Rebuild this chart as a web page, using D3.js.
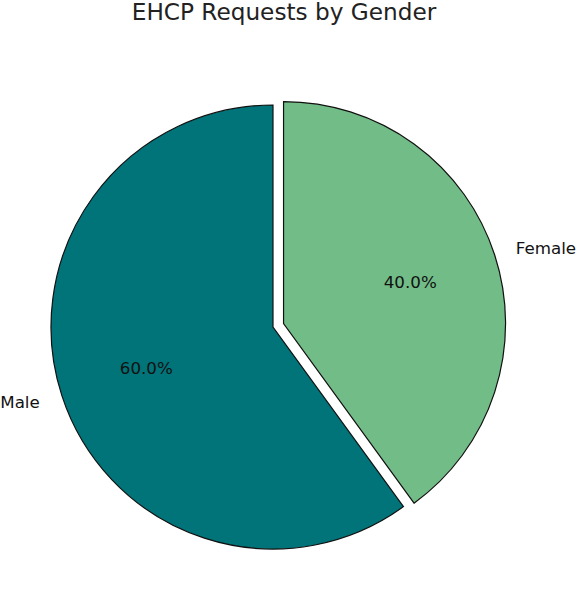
<!DOCTYPE html>
<html><head><meta charset="utf-8">
<script src="https://cdn.jsdelivr.net/npm/d3@7"></script>
<style>body{margin:0;background:#fff}svg{display:block}</style>
</head><body>
<svg id="c" width="578" height="600"></svg>
<script>
const categories = ["Female", "Male"];
const values = [40, 60];
const colors = ["#72bd87", "#01747a"];
const explode = [0.05, 0];
const title = "EHCP Requests by Gender";

const svg = d3.select("#c");
const cx = 273, cy = 327, r = 222;
const font = "DejaVu Sans, sans-serif";

svg.append("text").attr("x", 284).attr("y", 20).attr("text-anchor", "middle")
  .attr("font-family", font).attr("font-size", 23.2).attr("fill", "#222").text(title);

const pie = d3.pie().sort(null).value(d => d.v)(categories.map((c, i) => ({c, v: values[i], i})));
const arc = d3.arc().innerRadius(0).outerRadius(r);
const total = d3.sum(values);
const g = svg.append("g").attr("transform", `translate(${cx},${cy})`);

pie.forEach(p => {
  const mid = (p.startAngle + p.endAngle) / 2;
  const ux = Math.sin(mid), uy = -Math.cos(mid);
  const off = explode[p.data.i] * r;
  const wg = g.append("g").attr("transform", `translate(${ux * off},${uy * off})`);
  wg.append("path").attr("d", arc(p)).attr("fill", colors[p.data.i])
    .attr("stroke", "#111").attr("stroke-width", 1.2).attr("stroke-linejoin", "miter");
  const pr = 0.6 * r;
  wg.append("text").attr("x", ux * pr).attr("y", uy * pr).attr("dy", "0.35em")
    .attr("text-anchor", "middle").attr("font-family", font).attr("font-size", 16.7).attr("fill", "#111")
    .text((p.data.v / total * 100).toFixed(1) + "%");
  const lr = 1.1 * r;
  wg.append("text").attr("x", ux * lr - (ux < 0 ? 1 : 0)).attr("y", uy * lr).attr("dy", "0.35em")
    .attr("text-anchor", ux >= 0 ? "start" : "end").attr("font-family", font).attr("font-size", 16.7).attr("fill", "#111")
    .text(p.data.c);
});
</script>
</body></html>
